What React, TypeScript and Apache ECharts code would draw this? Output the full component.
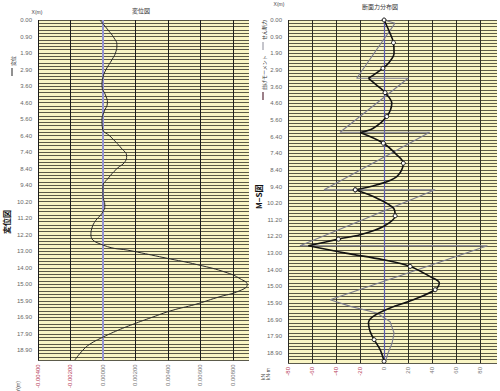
import React, { useEffect, useRef } from "react";
import * as echarts from "echarts";

// depth labels shown every 5 rows on both vertical axes
const depthLabels = [
  "0.00", "0.90", "1.90", "2.90", "3.60", "4.60", "5.60", "6.40", "7.40", "8.40",
  "9.40", "10.20", "11.20", "12.20", "13.00", "14.00", "15.00", "15.90", "16.90", "17.90", "18.90",
];
const ROWS = 103;

// displacement curve (変位): row index, value (m)
const dispRows = [0, 3, 5.4, 7.5, 9.6, 12, 15, 17.4, 19.8, 23.1, 24.9, 27.9, 30, 33, 35.1, 39, 41.1, 42.9, 45, 48, 50.4, 53.1, 56.1, 58.5, 60.6, 63, 65.1, 68.1, 69.9, 72, 74.1, 76.5, 78.3, 80.1, 81.9, 84, 86.1, 87.9, 90, 92.1, 93.9, 96, 98.1, 99.9, 102.9];
const dispVals = [-0.00019, 0.00031, 0.00068, 0.00086, 0.0008, 0.00056, 0.00019, 0, -0.00006, 0.00019, 0.00028, 0.00006, -0.00006, -0.00002, 0.00043, 0.00117, 0.00146, 0.00136, 0.00086, 0.00031, 0, 0, 0.00012, -0.00006, -0.00043, -0.00068, -0.00074, 0, 0.00179, 0.00383, 0.00586, 0.00765, 0.00845, 0.00889, 0.00845, 0.00703, 0.00568, 0.00426, 0.00302, 0.00185, 0.00093, 0, -0.0008, -0.00123, -0.00173];

// bending moment (曲げモーメント)
const momRows = [0, 4, 6.8, 10, 13, 14.5, 17.5, 20, 21.8, 25, 29, 32.5, 33.8, 37, 40.5, 43, 47, 49.5, 51, 53.5, 56.5, 58.8, 62, 64.5, 65.8, 67.8, 70, 72, 74, 77, 79, 81, 84, 86.5, 89, 91, 93.5, 96, 99, 102.5];
const momVals = [0, 5, 7.8, 8.3, 3.6, -1, -13, -4.7, 0.8, 6.4, 2.2, -9, -20, -0.6, 10.6, 16, 10.6, -6, -24, -6, 7.8, 9.2, -0.6, -20, -38, -63, -32, -0.6, 21.7, 38, 46, 42.5, 24.4, 5, -9, -13, -11.7, -8.3, -3.3, 0];
const momMarked = [0, 2, 5, 8, 10, 13, 15, 18, 21, 24, 28, 31, 37, 39];
const momKinks = [6, 12, 18, 25];

// shear force (せん断力)
const shearRows = [0, 1, 17.5, 17.5, 33.7, 33.7, 51, 51, 67.8, 67.8, 84, 86, 88, 90.6, 94, 97, 100, 103];
const shearVals = [0, 9, -22.8, 20, -36.7, 38, -50, 42.5, -70, 86, -45, -28, -6, 5, 8.3, 6.7, 3.3, 0.8];

const dispMin = -0.004, dispMax = 0.009, dispStep = 0.002;
const forceMin = -80, forceMax = 94, forceStep = 20;

const JP = '"Noto Sans CJK JP", "Liberation Sans", sans-serif';
const NUM = '"Liberation Sans", Arial, sans-serif';

export default function App() {
  const ref = useRef<HTMLDivElement>(null);
  useEffect(() => {
    const chart = echarts.init(ref.current!, null, { renderer: "svg" });

    const yAxis = (gi: number) => ({
      type: "value",
      gridIndex: gi,
      inverse: true,
      min: 0,
      max: ROWS,
      interval: 1,
      axisLine: { show: false },
      axisTick: { show: false },
      axisLabel: {
        margin: 6,
        fontSize: 6,
        fontFamily: NUM,
        color: "#666",
        formatter: (v: number) => {
          const k = Math.round(v);
          return k % 5 === 0 && k / 5 < depthLabels.length ? depthLabels[k / 5] : "";
        },
      },
      splitLine: { lineStyle: { color: "#4a4838", width: 0.9 } },
    });

    const labelColor = (v: any) => (Number(v) < -1e-12 ? "#b8405a" : "#777");

    const segs: any[] = [];
    const bounds = [0, ...momKinks, momRows.length - 1];
    for (let s = 0; s < bounds.length - 1; s++) {
      const data: any[] = [];
      for (let i = bounds[s]; i <= bounds[s + 1]; i++) {
        data.push({ value: [momVals[i], momRows[i]], symbol: momMarked.includes(i) ? "circle" : "none" });
      }
      segs.push({
        type: "line",
        xAxisIndex: 1,
        yAxisIndex: 1,
        data,
        smooth: 0.35,
        symbol: "circle",
        symbolSize: 4,
        z: 5,
        itemStyle: { color: "#fff", borderColor: "#111", borderWidth: 1 },
        lineStyle: { color: "#111", width: 1.6 },
      });
    }

    const option: any = {
      animation: false,
      grid: [
        { left: 38, top: 20, width: 211, height: 343, show: true, backgroundColor: "#f9f5c4", borderWidth: 0 },
        { left: 288, top: 20, width: 209, height: 343, show: true, backgroundColor: "#f9f5c4", borderWidth: 0 },
      ],
      xAxis: [
        {
          type: "value", gridIndex: 0, min: dispMin, max: dispMax, interval: dispStep,
          axisLine: { show: false }, axisTick: { show: false },
          axisLabel: {
            rotate: 90, margin: 4, fontSize: 6, fontFamily: NUM, showMaxLabel: false,
            color: labelColor,
            formatter: (v: number) => (Math.abs(v) < 1e-12 ? 0 : v).toFixed(5),
          },
          splitLine: { showMaxLine: false, lineStyle: { color: "#1c1c1c", width: 1 } },
        },
        {
          type: "value", gridIndex: 1, min: forceMin, max: forceMax, interval: forceStep,
          axisLine: { show: false }, axisTick: { show: false },
          axisLabel: {
            rotate: 90, margin: 4, fontSize: 6, fontFamily: NUM, showMaxLabel: false,
            color: labelColor,
          },
          splitLine: { showMaxLine: false, lineStyle: { color: "#2a2a24", width: 1 } },
        },
      ],
      yAxis: [yAxis(0), yAxis(1)],
      series: [
        {
          type: "line", xAxisIndex: 0, yAxisIndex: 0,
          data: dispVals.map((v, i) => [v, dispRows[i]]),
          smooth: 0.5, symbol: "none", z: 5,
          lineStyle: { color: "#2a2a2a", width: 1 },
          markLine: {
            silent: true, symbol: ["none", "none"], label: { show: false }, z: 3,
            lineStyle: { color: "#9494d4", width: 2, type: "solid" },
            data: [{ xAxis: 0 }],
          },
        },
        {
          type: "line", xAxisIndex: 1, yAxisIndex: 1,
          data: shearVals.map((v, i) => [v, shearRows[i]]),
          symbol: "none", z: 4,
          lineStyle: { color: "#7c7c8e", width: 1.1 },
          markLine: {
            silent: true, symbol: ["none", "none"], label: { show: false }, z: 3,
            lineStyle: { color: "#5a5ab4", width: 1.2, type: "solid" },
            data: [{ xAxis: 0 }],
          },
        },
        ...segs,
      ],
      graphic: [
        { type: "text", x: 141, y: 10, style: { text: "変位図", fontSize: 6, fontFamily: JP, fill: "#333", align: "center", verticalAlign: "middle" } },
        { type: "text", x: 37, y: 12, style: { text: "X(m)", fontSize: 5, fontFamily: NUM, fill: "#444", align: "center", verticalAlign: "middle" } },
        { type: "line", shape: { x1: 12, y1: 76, x2: 12, y2: 68 }, style: { stroke: "#222", lineWidth: 1 } },
        { type: "text", x: 12, y: 66, rotation: Math.PI / 2, style: { text: "変位", fontSize: 5, fontFamily: JP, fill: "#333", align: "left", verticalAlign: "middle" } },
        { type: "text", x: 6, y: 234, rotation: Math.PI / 2, style: { text: "変位図", fontSize: 8, fontWeight: "bold", fontFamily: JP, fill: "#111", align: "left", verticalAlign: "middle" } },
        { type: "text", x: 18, y: 392, rotation: Math.PI / 2, style: { text: "Y(m)", fontSize: 5, fontFamily: NUM, fill: "#444", align: "left", verticalAlign: "middle" } },

        { type: "text", x: 380, y: 6, style: { text: "断面力分布図", fontSize: 6, fontFamily: JP, fill: "#333", align: "center", verticalAlign: "middle" } },
        { type: "text", x: 279, y: 4, style: { text: "X(m)", fontSize: 5, fontFamily: NUM, fill: "#444", align: "center", verticalAlign: "middle" } },
        { type: "line", shape: { x1: 263, y1: 50, x2: 263, y2: 42 }, style: { stroke: "#8a8a98", lineWidth: 1 } },
        { type: "text", x: 263, y: 40, rotation: Math.PI / 2, style: { text: "せん断力", fontSize: 5, fontFamily: JP, fill: "#333", align: "left", verticalAlign: "middle" } },
        { type: "line", shape: { x1: 263, y1: 100, x2: 263, y2: 92 }, style: { stroke: "#5a2a3a", lineWidth: 1.2 } },
        { type: "text", x: 263, y: 90, rotation: Math.PI / 2, style: { text: "曲げモーメント", fontSize: 5, fontFamily: JP, fill: "#333", align: "left", verticalAlign: "middle" } },
        { type: "text", x: 258, y: 209, rotation: Math.PI / 2, style: { text: "M−S図", fontSize: 8, fontWeight: "bold", fontFamily: JP, fill: "#111", align: "left", verticalAlign: "middle" } },
        { type: "text", x: 265, y: 380, rotation: Math.PI / 2, style: { text: "kN\nkN·m", fontSize: 5, lineHeight: 5, fontFamily: NUM, fill: "#444", align: "left", verticalAlign: "middle" } },
      ],
    };

    chart.setOption(option);
    return () => chart.dispose();
  }, []);
  return <div ref={ref} style={{ position: "absolute", left: 0, top: 0, width: 500, height: 391 }} />;
}
